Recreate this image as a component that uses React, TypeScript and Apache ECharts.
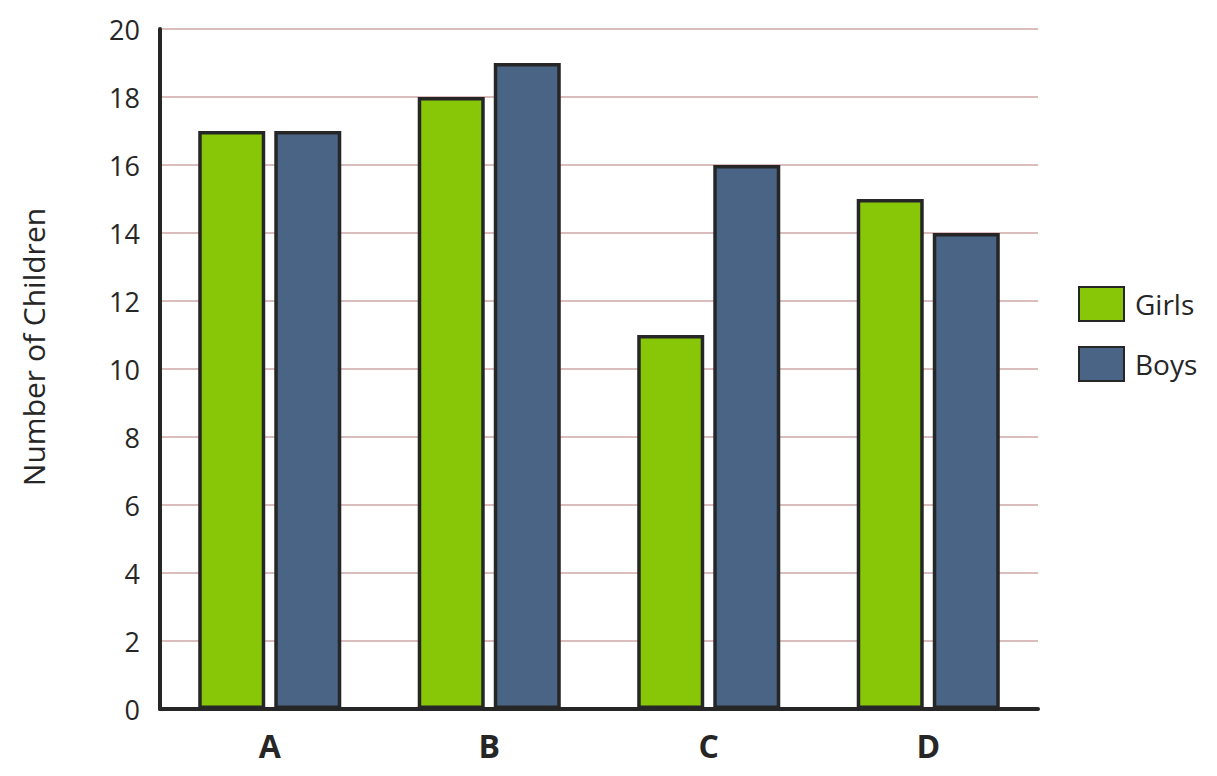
import React, { useEffect, useRef } from "react";
import * as echarts from "echarts";

const categories = ["A", "B", "C", "D"];
const girls = [17, 18, 11, 15];
const boys = [17, 19, 16, 14];
const yTicks = { min: 0, max: 20, interval: 2 };

const FONT = "'Open Sans', 'Noto Sans', sans-serif";

export default function App() {
  const ref = useRef<HTMLDivElement>(null);
  useEffect(() => {
    if (!ref.current) return;
    const chart = echarts.init(ref.current, undefined, { renderer: "svg" });
    chart.setOption({
      animation: false,
      backgroundColor: "#ffffff",
      textStyle: { fontFamily: FONT },
      grid: { left: 160, top: 29, right: 179, bottom: 67, containLabel: false },
      legend: {
        orient: "vertical",
        left: 1078,
        top: 286,
        padding: 0,
        icon: "rect",
        itemWidth: 45,
        itemHeight: 34,
        itemGap: 24,
        textStyle: { fontSize: 28, color: "#262626", fontFamily: FONT, padding: [0, 0, 0, 6] },
        data: ["Girls", "Boys"],
      },
      graphic: [
        {
          type: "text",
          x: 33,
          y: 347,
          rotation: Math.PI / 2,
          style: {
            text: "Number of Children",
            fontSize: 30,
            fontFamily: FONT,
            fill: "#262626",
            align: "center",
            verticalAlign: "middle",
          },
        },
      ],
      xAxis: {
        type: "category",
        data: categories,
        z: 5,
        axisLine: { lineStyle: { color: "#262626", width: 4 } },
        axisTick: { show: false },
        axisLabel: { fontSize: 32, fontWeight: "bold", color: "#262626", margin: 20, fontFamily: FONT },
      },
      yAxis: {
        type: "value",
        min: yTicks.min,
        max: yTicks.max,
        interval: yTicks.interval,
        axisLine: { show: true, lineStyle: { color: "#262626", width: 4 } },
        axisTick: { show: false },
        axisLabel: { fontSize: 27, color: "#262626", margin: 20, fontFamily: FONT },
        splitLine: { showMinLine: false, lineStyle: { color: "#cfa7a7", width: 1.5 } },
      },
      series: [
        {
          name: "Girls",
          type: "bar",
          data: girls,
          barWidth: 67,
          barGap: "13.5%",
          itemStyle: { color: "#88c608", borderColor: "#262626", borderWidth: 3.5 },
        },
        {
          name: "Boys",
          type: "bar",
          data: boys,
          barWidth: 67,
          barGap: "13.5%",
          itemStyle: { color: "#4a6486", borderColor: "#262626", borderWidth: 3.5 },
        },
      ],
    });
    return () => chart.dispose();
  }, []);
  return (
    <div
      ref={ref}
      style={{ position: "absolute", left: 0, top: 0, width: 1217, height: 776 }}
    />
  );
}
